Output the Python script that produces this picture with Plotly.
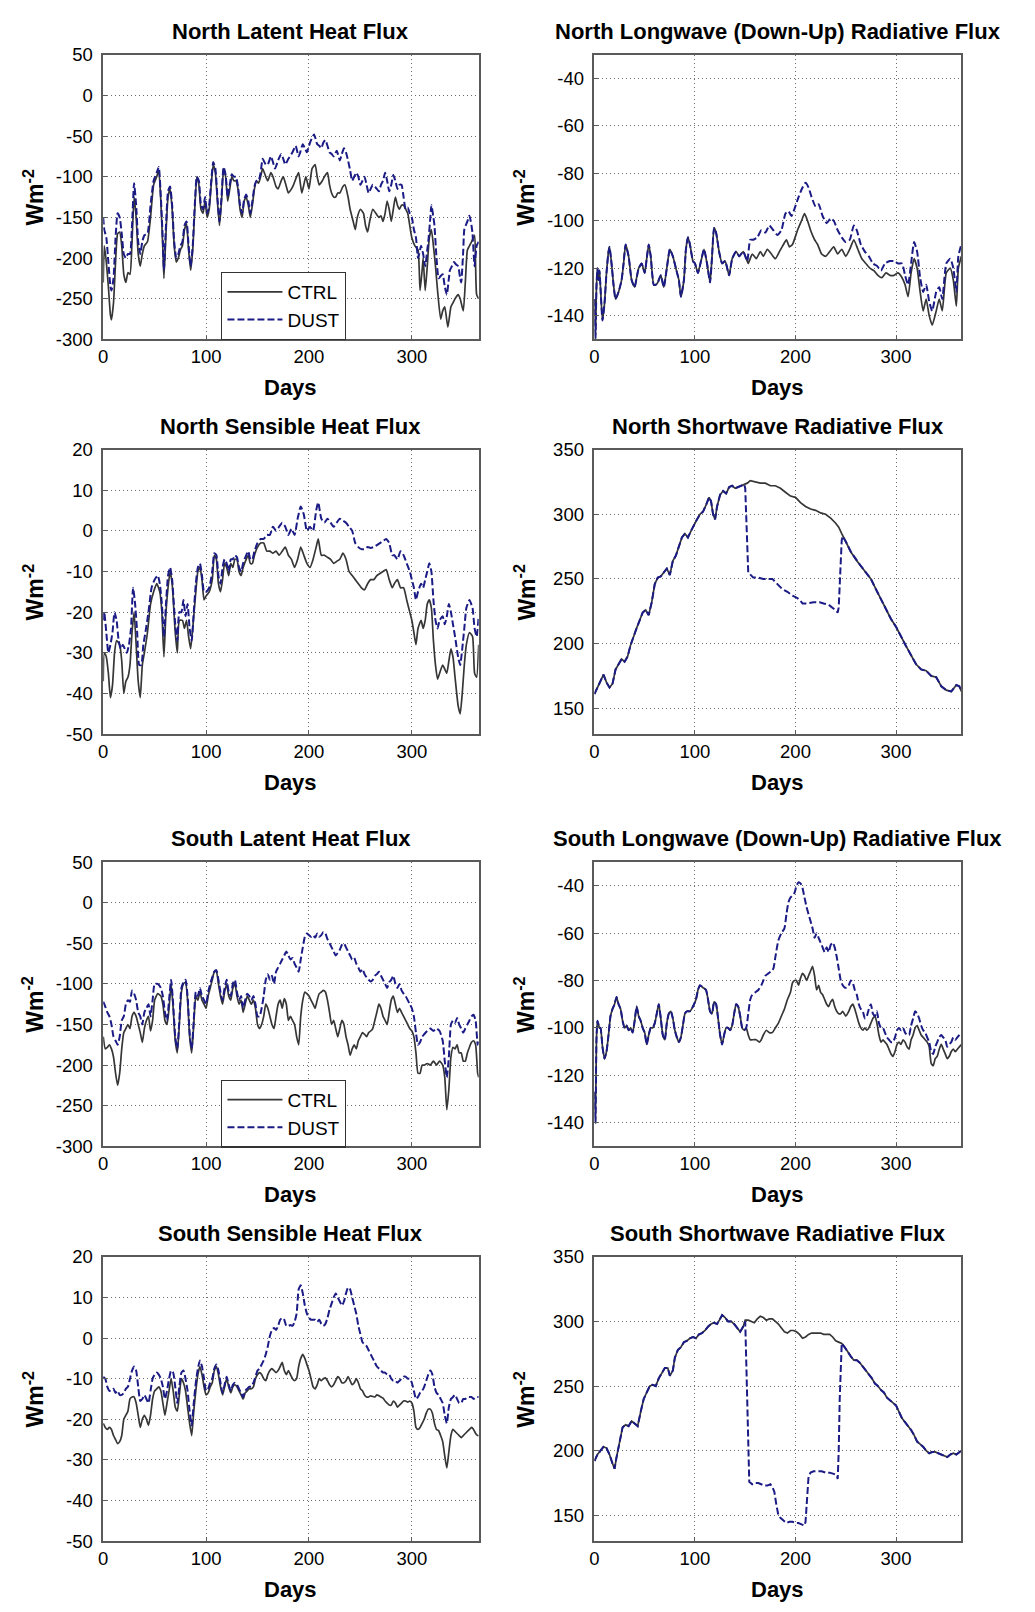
import plotly.graph_objects as go

# ---------------- data (day, W m-2) ----------------
DAY_TICKS = [0, 100, 200, 300]
LATENT_TICKS = [-300, -250, -200, -150, -100, -50, 0, 50]
LONGWAVE_TICKS = [-140, -120, -100, -80, -60, -40]
SENSIBLE_TICKS = [-50, -40, -30, -20, -10, 0, 10, 20]
SHORTWAVE_TICKS = [150, 200, 250, 300, 350]

NLH_CTRL = [(0,-230),(1,-185),(3,-205),(5,-235),(7,-270),(8,-276),(10,-255),(12,-205),(14,-170),(16,-168),(18,-185),(20,-220),(22,-230),(24,-218),(26,-220),(28,-180),(30,-125),(32,-150),(34,-195),(36,-210),(38,-195),(40,-185),(43,-180),(46,-150),(49,-110),(52,-100),(54,-92),(56,-130),(58,-190),(59,-225),(61,-170),(63,-125),(65,-115),(67,-140),(69,-185),(71,-205),(73,-200),(75,-190),(77,-185),(79,-165),(81,-158),(83,-190),(85,-215),(87,-190),(89,-140),(91,-100),(93,-110),(95,-140),(97,-145),(99,-130),(101,-150),(103,-140),(105,-110),(107,-85),(109,-95),(111,-130),(113,-160),(115,-130),(117,-90),(119,-100),(121,-130),(123,-115),(125,-100),(127,-105),(129,-105),(131,-115),(133,-140),(135,-150),(137,-130),(139,-125),(141,-135),(143,-150),(145,-135),(147,-115),(149,-105),(151,-108),(153,-100),(155,-90),(158,-100),(160,-105),(163,-95),(165,-100),(168,-112),(170,-115),(173,-105),(175,-100),(178,-112),(180,-120),(183,-115),(185,-110),(188,-100),(190,-95),(193,-120),(195,-110),(197,-100),(200,-115),(203,-90),(206,-85),(208,-100),(210,-110),(213,-105),(215,-100),(218,-95),(220,-110),(222,-120),(224,-125),(226,-125),(228,-120),(230,-120),(233,-112),(235,-110),(238,-125),(240,-140),(243,-155),(245,-165),(247,-150),(250,-140),(253,-145),(255,-160),(257,-168),(259,-155),(262,-140),(265,-145),(268,-150),(270,-148),(272,-155),(274,-145),(276,-130),(278,-140),(280,-155),(282,-140),(284,-125),(286,-135),(288,-140),(290,-135),(292,-135),(294,-140),(296,-145),(298,-160),(300,-175),(303,-185),(306,-190),(308,-240),(310,-215),(311,-200),(313,-240),(315,-210),(317,-175),(319,-165),(321,-185),(323,-210),(325,-240),(328,-275),(330,-265),(332,-260),(335,-285),(338,-260),(340,-255),(342,-250),(345,-245),(347,-250),(350,-265),(352,-230),(354,-190),(356,-185),(358,-180),(361,-172),(362,-210),(363,-245),(365,-250)]
NLH_DUST = [(0,-150),(1,-165),(3,-175),(5,-205),(7,-235),(8,-240),(10,-225),(12,-175),(14,-145),(16,-150),(18,-170),(20,-195),(22,-200),(24,-195),(26,-195),(28,-160),(30,-108),(32,-135),(34,-180),(36,-195),(38,-180),(40,-172),(43,-170),(46,-135),(49,-105),(52,-95),(54,-88),(56,-125),(58,-180),(59,-215),(61,-160),(63,-118),(65,-112),(67,-135),(69,-180),(71,-200),(73,-195),(75,-185),(77,-180),(79,-160),(81,-155),(83,-185),(85,-210),(87,-185),(89,-135),(91,-100),(93,-105),(95,-135),(97,-140),(99,-125),(101,-145),(103,-135),(105,-105),(107,-82),(109,-90),(111,-125),(113,-155),(115,-125),(117,-88),(119,-98),(121,-125),(123,-110),(125,-97),(127,-100),(129,-100),(131,-112),(133,-135),(135,-145),(137,-128),(139,-122),(141,-130),(143,-145),(145,-130),(147,-112),(149,-105),(151,-105),(153,-95),(155,-78),(158,-85),(160,-85),(163,-75),(165,-82),(167,-90),(170,-80),(173,-72),(175,-78),(177,-85),(180,-78),(184,-70),(187,-62),(190,-75),(192,-68),(194,-60),(196,-65),(198,-70),(200,-62),(202,-55),(205,-48),(208,-60),(210,-62),(212,-65),(214,-58),(216,-55),(218,-62),(220,-70),(222,-72),(224,-75),(227,-68),(230,-80),(232,-72),(234,-65),(236,-70),(238,-80),(240,-92),(242,-105),(244,-100),(246,-95),(248,-100),(250,-110),(252,-105),(254,-100),(256,-110),(258,-120),(260,-115),(262,-110),(264,-112),(266,-115),(268,-118),(270,-110),(272,-105),(274,-95),(276,-105),(278,-118),(280,-110),(282,-98),(284,-105),(286,-115),(288,-110),(290,-110),(292,-125),(294,-140),(296,-138),(298,-145),(300,-150),(302,-165),(304,-175),(306,-200),(308,-190),(309,-185),(311,-195),(313,-210),(315,-190),(316,-180),(318,-150),(319,-135),(321,-150),(322,-160),(324,-200),(326,-225),(328,-222),(330,-220),(332,-235),(334,-245),(336,-225),(337,-215),(339,-210),(341,-205),(343,-208),(345,-210),(347,-225),(348,-230),(350,-190),(351,-165),(354,-155),(356,-148),(358,-160),(359,-170),(361,-210),(363,-185),(365,-180)]

NLW_COMMON = [(0,-133),(1,-150),(2,-128),(3,-120),(4,-125),(5,-121),(6,-128),(8,-142),(10,-135),(12,-122),(14,-113),(15,-111),(17,-118),(19,-127),(21,-133),(24,-130),(27,-125),(29,-118),(31,-110),(34,-115),(37,-125),(40,-128),(42,-124),(44,-120),(47,-118),(50,-122),(52,-116),(54,-110),(56,-115),(59,-127),(61,-127),(63,-126),(66,-123),(69,-128),(72,-120),(75,-112),(78,-115),(81,-120),(84,-125),(86,-132),(89,-125),(91,-112),(93,-107),(95,-110),(98,-117),(100,-118),(103,-122),(106,-117),(109,-112),(112,-118),(115,-126),(117,-115),(119,-103),(121,-105),(124,-113),(127,-118),(130,-117),(134,-123),(137,-116),(141,-113),(144,-115),(148,-113),(152,-117)]
NLW_CTRL_LATE = [(153,-118),(157,-114),(161,-116),(165,-113),(168,-115),(172,-112),(176,-114),(180,-116),(184,-113),(188,-110),(191,-108),(194,-111),(197,-110),(202,-104),(206,-100),(209,-97),(212,-100),(215,-104),(219,-108),(222,-110),(226,-114),(230,-115),(234,-113),(238,-111),(242,-114),(246,-112),(250,-115),(254,-112),(258,-108),(262,-112),(266,-116),(270,-118),(274,-120),(278,-121),(282,-123),(286,-124),(290,-122),(294,-123),(298,-123),(302,-122),(306,-124),(309,-127),(312,-132),(315,-122),(318,-116),(321,-120),(324,-130),(327,-138),(330,-133),(333,-140),(336,-144),(340,-138),(343,-133),(346,-138),(350,-122),(354,-120),(357,-125),(360,-136),(362,-120),(365,-115)]
NLW_DUST_LATE = [(155,-108),(158,-108),(162,-107),(166,-104),(170,-105),(174,-102),(178,-104),(182,-106),(186,-104),(190,-97),(193,-96),(196,-98),(199,-95),(203,-90),(207,-86),(210,-84),(213,-86),(216,-90),(220,-94),(223,-93),(227,-98),(231,-101),(235,-99),(238,-100),(242,-104),(246,-107),(250,-109),(254,-108),(258,-102),(261,-104),(265,-110),(269,-113),(273,-115),(277,-118),(281,-119),(285,-121),(289,-118),(294,-117),(298,-117),(302,-118),(306,-118),(309,-123),(312,-127),(315,-118),(318,-109),(321,-113),(324,-124),(327,-130),(330,-127),(333,-134),(336,-138),(340,-130),(343,-128),(346,-133),(350,-118),(354,-116),(357,-120),(360,-130),(362,-115),(365,-110)]

NSH_CTRL = [(0,-37),(1,-30),(3,-31),(5,-35),(7,-41),(9,-38),(11,-30),(13,-27),(16,-28),(18,-32),(20,-40),(22,-37),(24,-36),(26,-33),(28,-25),(30,-20),(32,-28),(34,-37),(36,-41),(38,-33),(40,-30),(43,-25),(46,-18),(49,-15),(52,-13),(55,-15),(57,-20),(59,-31),(61,-20),(63,-14),(65,-10),(67,-13),(70,-25),(72,-30),(74,-22),(77,-22),(79,-24),(81,-22),(83,-26),(85,-29),(87,-24),(90,-15),(92,-10),(94,-9),(96,-12),(98,-17),(100,-16),(103,-15),(106,-12),(108,-6),(110,-7),(112,-13),(114,-15),(116,-12),(118,-8),(120,-9),(122,-11),(124,-8),(126,-9),(128,-7),(130,-7),(132,-10),(134,-11),(136,-9),(139,-7),(141,-6),(143,-8),(145,-8),(147,-6),(150,-4),(153,-3),(156,-3),(159,-5),(162,-5),(165,-5.5),(168,-5),(171,-6),(174,-5),(177,-4),(180,-6),(183,-7),(186,-9),(189,-7),(192,-4),(195,-6),(198,-8),(201,-9),(204,-7),(207,-4),(209,-2),(212,-6),(215,-6),(218,-6.5),(221,-7),(224,-8),(227,-7.5),(230,-7),(233,-5.5),(236,-7),(239,-10),(242,-11),(245,-12),(248,-13),(251,-14),(254,-14.5),(257,-13),(260,-12),(263,-12),(266,-11),(269,-10.5),(272,-10),(275,-9.5),(278,-12),(281,-14),(283,-13),(286,-12),(289,-14),(292,-14),(295,-17),(298,-20),(300,-22),(302,-25),(304,-28),(306,-24),(309,-22),(311,-24),(313,-22),(315,-18),(317,-17),(319,-19),(321,-27),(323,-33),(325,-36.5),(327,-35),(330,-33),(332,-34),(334,-35),(336,-32),(338,-29),(340,-31),(342,-36),(345,-43),(347,-45),(349,-40),(351,-33),(353,-28),(356,-25),(359,-26),(361,-35),(363,-36),(365,-28)]
NSH_DUST = [(0,-22),(1,-20),(3,-25),(5,-30),(7,-28),(9,-25),(11,-20),(13,-22),(15,-27),(17,-29),(19,-28),(21,-29),(23,-30),(25,-28),(27,-24),(29,-14),(31,-18),(33,-25),(35,-33),(37,-33),(39,-28),(41,-25),(44,-20),(47,-14),(50,-12),(53,-11),(55,-13),(57,-18),(59,-26),(61,-18),(63,-11),(65,-9),(67,-12),(70,-23),(72,-27),(74,-20),(76,-20),(78,-17),(80,-21),(82,-18),(84,-24),(86,-27),(88,-20),(90,-13),(92,-9),(94,-8),(96,-11),(98,-15),(100,-15),(103,-14),(106,-10),(108,-5.5),(110,-6),(112,-11),(114,-13),(116,-9),(118,-7),(120,-8),(122,-10),(124,-7),(126,-7),(128,-6),(130,-6.5),(132,-9),(134,-10),(136,-8),(139,-6),(141,-5),(143,-7),(145,-7),(147,-5),(150,-3),(153,-2),(156,-2),(159,-1),(162,-1),(165,1),(168,0),(171,1),(174,2),(177,1),(180,-1),(183,0.5),(186,-1),(189,3),(192,6),(195,4),(198,0),(201,1),(204,0),(207,5),(209,7),(212,3),(215,2),(218,3),(221,2),(224,1),(227,2),(230,3),(233,2.5),(236,2),(239,1),(242,0),(245,-3),(248,-4),(251,-4.5),(254,-4.5),(257,-4),(260,-4.2),(263,-4),(266,-3.5),(269,-3),(272,-2.5),(275,-2),(278,-3),(281,-6),(283,-6),(286,-7),(289,-5),(292,-6),(295,-8),(298,-10),(300,-12),(302,-14),(304,-17),(306,-15),(309,-13),(311,-14),(313,-12),(315,-10),(317,-8),(319,-10),(321,-17),(323,-22),(325,-24),(327,-22),(330,-21),(332,-23),(334,-21),(336,-18),(338,-20),(340,-23),(342,-26),(345,-31),(347,-33),(349,-29),(351,-24),(353,-19),(356,-17),(359,-19),(361,-24),(363,-26),(365,-21)]

NSW_COMMON = [(0,161),(3,166),(6,172),(9,176),(12,170),(15,166),(18,169),(21,180),(24,184),(27,188),(30,186),(33,190),(36,199),(39,206),(42,212),(45,218),(48,224),(51,226),(54,222),(57,232),(60,246),(63,251),(66,252),(69,255),(72,258),(75,253),(78,264),(81,268),(84,275),(87,282),(90,285),(93,282),(96,287),(99,292),(102,296),(105,300),(108,302),(111,307),(114,313),(116,310),(118,300),(120,296),(122,306),(125,315),(128,318),(131,316),(134,321),(137,322),(140,320),(143,321),(146,322),(149,323)]
NSW_CTRL_LATE = [(152,324),(155,326),(160,325),(165,324),(170,324),(175,322),(180,322),(185,320),(190,317),(195,314),(200,313),(205,309),(210,306),(215,304),(220,303),(225,301),(230,300),(235,297),(240,293),(243,290),(246,285),(250,279),(255,271),(260,265),(265,260),(270,255),(275,250),(280,242),(285,234),(290,227),(295,219),(300,213),(305,205),(310,198),(315,191),(320,184),(325,180),(330,179),(335,175),(340,174),(345,167),(350,164),(355,163),(360,168),(363,167),(365,163)]
NSW_DUST_MID = [(150,320),(152,280),(153,255),(158,251),(163,251),(168,250),(173,250),(177,250),(182,246),(187,242),(192,240),(197,237),(200,236),(204,234),(207,231),(212,231),(218,232),(224,232),(228,231),(233,230),(238,227),(242,224),(243,228),(244,250),(246,280),(247,283)]

SLH_CTRL = [(0,-165),(2,-180),(4,-178),(6,-175),(8,-180),(10,-190),(12,-210),(14,-225),(16,-210),(18,-180),(20,-160),(22,-155),(24,-150),(26,-155),(28,-140),(30,-135),(32,-140),(34,-150),(36,-160),(38,-172),(40,-155),(42,-145),(44,-140),(46,-158),(48,-145),(50,-120),(53,-112),(56,-115),(58,-125),(60,-145),(62,-150),(64,-130),(66,-100),(68,-130),(70,-170),(72,-185),(74,-150),(76,-110),(78,-100),(80,-98),(82,-120),(84,-165),(86,-185),(88,-150),(90,-115),(92,-120),(94,-110),(96,-120),(98,-125),(100,-130),(102,-115),(104,-105),(106,-95),(108,-85),(110,-85),(112,-100),(114,-115),(116,-125),(118,-110),(120,-100),(122,-115),(124,-120),(126,-105),(128,-100),(130,-115),(132,-125),(134,-120),(136,-135),(138,-125),(140,-115),(142,-120),(144,-125),(146,-120),(148,-130),(150,-150),(152,-155),(154,-150),(156,-140),(158,-125),(160,-130),(162,-140),(164,-150),(166,-155),(168,-140),(170,-125),(172,-120),(174,-130),(176,-118),(178,-125),(180,-145),(182,-140),(184,-145),(186,-150),(188,-165),(190,-175),(192,-140),(194,-120),(196,-110),(198,-112),(200,-115),(202,-120),(204,-125),(206,-130),(208,-120),(210,-112),(212,-110),(214,-108),(216,-110),(218,-120),(220,-135),(222,-150),(224,-145),(226,-155),(228,-165),(230,-155),(232,-145),(234,-150),(236,-165),(238,-175),(240,-188),(242,-180),(244,-175),(246,-180),(248,-170),(250,-165),(252,-160),(254,-162),(256,-165),(258,-160),(260,-158),(262,-155),(264,-145),(266,-135),(268,-125),(270,-130),(272,-140),(274,-145),(276,-150),(278,-135),(280,-120),(282,-115),(284,-125),(286,-135),(288,-130),(290,-135),(292,-140),(294,-145),(296,-150),(298,-155),(300,-158),(302,-165),(304,-185),(306,-210),(308,-210),(310,-200),(312,-200),(315,-198),(318,-200),(321,-195),(324,-200),(327,-195),(330,-200),(332,-215),(334,-255),(336,-230),(338,-190),(340,-178),(342,-180),(344,-175),(346,-185),(348,-185),(350,-195),(352,-195),(354,-185),(356,-178),(358,-172),(360,-170),(362,-175),(364,-210),(365,-215)]
SLH_DUST = [(0,-122),(2,-128),(4,-135),(6,-140),(8,-150),(10,-165),(12,-170),(14,-175),(16,-165),(18,-145),(20,-140),(22,-125),(24,-120),(26,-122),(28,-108),(30,-112),(32,-120),(34,-135),(36,-140),(38,-150),(40,-135),(42,-130),(44,-125),(46,-140),(48,-120),(50,-100),(53,-100),(56,-105),(58,-115),(60,-135),(62,-145),(64,-120),(66,-95),(68,-125),(70,-165),(72,-180),(74,-145),(76,-105),(78,-98),(80,-95),(82,-115),(84,-160),(86,-180),(88,-145),(90,-110),(92,-115),(94,-105),(96,-115),(98,-120),(100,-125),(102,-110),(104,-100),(106,-92),(108,-85),(110,-83),(112,-95),(114,-110),(116,-120),(118,-105),(120,-95),(122,-110),(124,-115),(126,-100),(128,-95),(130,-110),(132,-120),(134,-115),(136,-130),(138,-120),(140,-112),(142,-115),(144,-120),(146,-115),(148,-125),(150,-140),(152,-140),(154,-130),(156,-115),(158,-95),(160,-88),(162,-95),(164,-90),(166,-100),(168,-85),(170,-80),(172,-75),(174,-70),(176,-65),(178,-60),(180,-65),(182,-70),(184,-68),(186,-75),(188,-80),(190,-85),(192,-70),(194,-55),(196,-42),(198,-38),(200,-40),(202,-42),(204,-40),(206,-43),(208,-38),(210,-42),(212,-40),(214,-36),(216,-38),(218,-45),(220,-50),(222,-55),(224,-60),(226,-65),(228,-62),(230,-58),(232,-52),(234,-50),(236,-55),(238,-60),(240,-65),(242,-70),(244,-68),(246,-75),(248,-80),(250,-85),(252,-82),(254,-88),(256,-92),(258,-95),(260,-97),(262,-95),(264,-90),(266,-88),(268,-85),(270,-90),(272,-95),(274,-100),(276,-105),(278,-98),(280,-95),(282,-90),(284,-100),(286,-105),(288,-100),(290,-108),(292,-112),(294,-115),(296,-120),(298,-125),(300,-130),(302,-140),(304,-160),(306,-175),(308,-172),(310,-165),(312,-162),(315,-158),(318,-155),(321,-158),(324,-155),(327,-158),(330,-170),(332,-195),(334,-215),(336,-190),(338,-150),(340,-145),(342,-148),(344,-142),(346,-150),(348,-155),(350,-160),(352,-155),(354,-150),(356,-145),(358,-140),(360,-138),(362,-145),(364,-175),(365,-170)]

SLW_COMMON = [(0,-127),(1,-140),(2,-105),(3,-97),(5,-100),(6,-100),(8,-108),(10,-113),(12,-110),(14,-103),(16,-95),(18,-92),(20,-90),(22,-87),(24,-90),(26,-92),(28,-97),(30,-100),(32,-99),(34,-101),(36,-100),(38,-102),(40,-97),(42,-91),(44,-95),(46,-97),(48,-100),(50,-102),(52,-107),(54,-103),(56,-100),(58,-100),(60,-98),(62,-94),(64,-90),(66,-96),(68,-103),(70,-105),(72,-98),(74,-94),(76,-93),(78,-96),(80,-101),(82,-104),(84,-106),(86,-104),(88,-99),(90,-94),(92,-93),(95,-93),(98,-91),(101,-88),(103,-84),(105,-82),(108,-83),(111,-84),(113,-88),(115,-93),(117,-94),(119,-89),(121,-90),(123,-96),(125,-103),(127,-107),(129,-103),(131,-100),(133,-100),(135,-101),(137,-99),(139,-94),(141,-90),(143,-91),(145,-95),(147,-100),(149,-101),(151,-100)]
SLW_CTRL_LATE = [(153,-103),(155,-105),(158,-105),(161,-105),(164,-106),(166,-105),(168,-103),(171,-101),(174,-102),(177,-102),(180,-100),(183,-98),(186,-95),(189,-92),(192,-88),(195,-85),(197,-81),(199,-80),(201,-80),(203,-82),(205,-79),(207,-77),(209,-78),(211,-80),(213,-78),(215,-76),(217,-74),(219,-78),(221,-84),(223,-82),(225,-85),(227,-86),(229,-88),(231,-90),(233,-91),(235,-89),(237,-88),(239,-91),(241,-93),(243,-94),(245,-94),(247,-93),(250,-95),(253,-93),(255,-91),(257,-90),(259,-92),(261,-95),(263,-98),(265,-100),(267,-101),(269,-100),(271,-101),(273,-100),(275,-98),(277,-96),(279,-95),(281,-98),(283,-103),(285,-106),(287,-105),(289,-106),(291,-107),(293,-109),(295,-111),(297,-112),(299,-110),(301,-107),(303,-106),(305,-107),(307,-105),(309,-106),(311,-108),(313,-109),(315,-105),(317,-103),(319,-100),(321,-99),(323,-101),(325,-103),(327,-104),(329,-105),(331,-106),(333,-108),(335,-115),(337,-116),(339,-113),(341,-112),(343,-109),(345,-107),(347,-109),(349,-111),(351,-113),(353,-112),(355,-110),(357,-109),(359,-110),(361,-109),(363,-108),(365,-107)]
SLW_DUST_LATE = [(153,-94),(155,-88),(157,-86),(160,-85),(163,-84),(166,-82),(168,-80),(170,-78),(173,-77),(176,-76),(178,-75),(180,-70),(183,-63),(186,-60),(189,-58),(191,-52),(193,-47),(195,-45),(197,-44),(199,-43),(201,-40),(203,-38.5),(205,-39),(207,-41),(209,-45),(211,-49),(213,-52),(215,-55),(217,-58),(219,-62),(221,-60),(223,-62),(225,-64),(227,-66),(229,-68),(231,-66),(233,-68),(235,-65),(237,-64),(239,-66),(241,-70),(243,-75),(245,-80),(247,-82),(249,-83),(251,-83),(253,-82),(255,-80),(257,-81),(259,-84),(261,-86),(263,-90),(265,-92),(267,-93),(269,-96),(271,-95),(273,-92),(275,-90),(277,-94),(279,-95),(281,-93),(283,-98),(285,-100),(287,-100),(289,-102),(291,-104),(293,-105),(295,-106),(297,-106),(299,-104),(301,-101),(303,-100),(305,-101),(307,-100),(309,-102),(311,-103),(313,-103),(315,-99),(317,-96),(319,-93),(321,-94),(323,-96),(325,-99),(327,-101),(329,-102),(331,-104),(333,-106),(335,-110),(337,-111),(339,-108),(341,-106),(343,-104),(345,-103),(347,-104),(349,-105),(351,-108),(353,-107),(355,-106),(357,-104),(359,-105),(361,-104),(363,-103),(365,-102)]

SSH_CTRL = [(0,-21),(2,-22),(4,-22.5),(6,-22),(8,-22.5),(10,-24),(12,-25),(14,-26),(16,-25.5),(18,-24),(20,-20),(22,-19),(24,-18),(26,-15),(28,-14.5),(30,-14.5),(32,-16),(34,-19),(36,-22),(38,-20),(40,-19),(42,-20),(44,-21.5),(46,-19),(48,-15),(50,-13),(52,-12.5),(54,-12),(56,-13),(58,-16),(60,-19),(62,-16),(64,-13),(66,-10),(68,-13),(70,-17),(72,-18),(74,-14),(76,-10),(78,-11),(80,-13),(82,-17),(84,-21),(86,-24),(88,-18),(90,-13),(92,-9),(94,-7),(96,-9),(98,-12),(100,-14),(102,-13.5),(104,-12),(106,-11),(108,-8),(110,-7),(112,-9),(114,-12),(116,-14),(118,-12),(120,-10),(122,-12),(124,-13.5),(126,-12),(128,-11.5),(130,-12),(132,-13),(134,-14),(136,-15),(138,-13.5),(140,-13),(142,-12.5),(144,-12.5),(146,-12),(148,-10),(150,-9),(152,-8.5),(154,-9),(156,-10),(158,-10.5),(160,-9),(162,-8),(164,-7.5),(166,-8),(168,-8.5),(170,-8),(172,-7),(174,-6),(176,-8),(178,-9),(180,-8),(182,-9),(184,-10),(186,-10.5),(188,-10),(190,-7),(192,-5),(194,-4),(196,-5),(198,-6.5),(200,-8),(202,-10),(204,-12),(206,-12.5),(208,-11.5),(210,-10),(212,-10.5),(214,-10),(216,-9.8),(218,-10.5),(220,-11.5),(222,-12),(224,-11.5),(226,-10.5),(228,-9.5),(230,-10),(232,-11),(234,-11),(236,-10.5),(238,-9.5),(240,-10.5),(242,-11.5),(244,-11),(246,-10),(248,-11),(250,-12.5),(252,-13),(254,-14),(256,-14.5),(258,-14.5),(260,-14.2),(262,-14.4),(264,-14.5),(266,-14),(268,-14.2),(270,-14.5),(272,-14.8),(274,-15.5),(276,-16),(278,-16.5),(280,-16.5),(282,-15.5),(284,-16),(286,-17),(288,-16.5),(290,-16),(292,-15.5),(294,-15.5),(296,-15.8),(298,-15.5),(300,-16),(302,-18),(304,-22),(306,-22.5),(308,-22),(310,-21),(312,-20),(314,-18.5),(316,-17.5),(318,-17.5),(320,-18.5),(322,-21),(324,-22.5),(326,-22.8),(328,-24),(330,-25.5),(332,-29),(334,-32),(336,-28),(338,-24),(340,-22.5),(342,-23),(344,-23.5),(346,-24),(348,-24.5),(350,-24),(352,-23.5),(354,-23),(356,-22.5),(358,-22),(360,-22.5),(362,-23.5),(364,-24),(365,-24)]
SSH_DUST = [(0,-9.5),(2,-10),(4,-12),(6,-13),(8,-13),(10,-12.5),(12,-13.5),(14,-13),(16,-14),(18,-14),(20,-13.5),(22,-12.5),(24,-12),(26,-10),(28,-8),(30,-7),(32,-8),(34,-12),(36,-15.5),(38,-15),(40,-14),(42,-15),(44,-16),(46,-13),(48,-10),(50,-9),(52,-8.5),(54,-9),(56,-10),(58,-12),(60,-15),(62,-13),(64,-10),(66,-8),(68,-8.5),(70,-12),(72,-16),(74,-12),(76,-8.5),(78,-8),(80,-10),(82,-13),(84,-18),(86,-21.5),(88,-16),(90,-11),(92,-7.5),(94,-5.5),(96,-7),(98,-10),(100,-13),(102,-12.5),(104,-11),(106,-10),(108,-7.5),(110,-6.5),(112,-8),(114,-11),(116,-13.5),(118,-11.5),(120,-9.5),(122,-11.5),(124,-13),(126,-11.5),(128,-11),(130,-11.5),(132,-12.5),(134,-13.5),(136,-14.5),(138,-13),(140,-12.5),(142,-12),(144,-12),(146,-11),(148,-9.5),(150,-8),(152,-7.5),(154,-6.5),(156,-5.5),(158,-4),(160,-2),(162,0.5),(164,2),(166,2.5),(168,2),(170,3),(172,4.5),(174,5),(176,4.5),(178,3),(180,3),(182,3.2),(184,3),(186,4),(188,6),(190,12),(192,13),(194,11),(196,8),(198,6),(200,5),(202,4.5),(204,4.5),(206,4.5),(208,4),(210,4.5),(212,3.5),(214,3),(216,3.5),(218,5),(220,7),(222,8.5),(224,10),(226,11),(228,10),(230,9),(232,8),(234,9),(236,11),(238,12.5),(240,12),(242,10),(244,8),(246,6),(248,3),(250,1),(252,-1),(254,-1.5),(256,-2),(258,-3),(260,-4),(262,-5),(264,-6),(266,-7),(268,-7.5),(270,-8),(272,-8.5),(274,-8.5),(276,-9),(278,-9),(280,-10),(282,-10.5),(284,-10.5),(286,-11),(288,-10.5),(290,-10),(292,-9.5),(294,-9.5),(296,-10),(298,-10),(300,-11),(302,-13),(304,-15),(306,-14.5),(308,-13.5),(310,-13),(312,-12),(314,-10.5),(316,-9),(318,-8),(320,-9),(322,-12),(324,-13.5),(326,-14),(328,-15),(330,-16),(332,-19),(334,-21),(336,-17),(338,-15),(340,-14.5),(342,-14),(344,-15),(346,-16),(348,-16),(350,-15),(352,-15),(354,-14.5),(356,-14.5),(358,-14.5),(360,-15),(362,-14.5),(364,-14.5),(365,-14.5)]

SSW_COMMON = [(0,192),(3,197),(6,200),(9,203),(12,202),(15,197),(18,190),(20,186),(22,195),(25,207),(28,218),(31,220),(34,219),(37,223),(40,221),(43,219),(46,230),(49,240),(52,245),(55,250),(58,251),(61,250),(64,256),(67,260),(70,264),(73,264),(75,258),(78,262),(80,272),(83,278),(86,280),(89,284),(92,285),(95,287),(98,288),(101,287),(104,290),(107,291),(110,293),(113,296),(116,298),(119,299),(122,298),(125,302),(127,305),(130,303),(133,300),(136,300),(139,298),(142,295),(145,292),(148,296)]
SSW_CTRL_LATE = [(150,301),(153,301),(156,300),(159,299),(162,302),(165,304),(168,303),(171,301),(174,302),(177,302),(180,300),(183,298),(186,295),(189,292),(192,291),(195,293),(198,293),(201,292),(204,290),(207,287),(210,288),(213,290),(216,291),(219,291),(222,291),(225,291),(228,290),(231,290),(234,290),(237,288),(240,285),(243,284),(246,283),(249,280),(252,276),(255,273),(258,270),(261,270),(264,268),(267,265),(270,262),(273,259),(276,256),(279,252),(282,250),(285,247),(288,245),(291,241),(294,239),(297,237),(300,235),(303,230),(306,225),(309,222),(312,219),(315,216),(318,212),(321,207),(324,205),(327,203),(330,200),(333,198),(336,199),(339,199),(342,198),(345,197),(348,196),(351,195),(354,197),(357,198),(360,197),(363,199),(365,200)]
SSW_DUST_MID = [(150,300),(151,270),(152,240),(153,200),(154,176),(157,174),(160,175),(163,175),(166,174),(169,173),(172,173),(175,174),(177,172),(179,168),(181,158),(183,150),(185,148),(188,146),(191,144),(194,145),(197,145),(200,144),(203,144),(206,143),(209,142),(210,145),(211,155),(212,170),(213,180),(215,183),(218,184),(222,184),(226,184),(230,183),(234,183),(238,182),(241,181),(242,178),(243,200),(244,240),(245,270)]

# ---------------- assemble series ----------------
series = {
    "nlh": (NLH_CTRL, NLH_DUST),
    "nlw": (NLW_COMMON + NLW_CTRL_LATE, NLW_COMMON + NLW_DUST_LATE),
    "nsh": (NSH_CTRL, NSH_DUST),
    "nsw": (NSW_COMMON + NSW_CTRL_LATE,
            NSW_COMMON + NSW_DUST_MID + [p for p in NSW_CTRL_LATE if p[0] >= 250]),
    "slh": (SLH_CTRL, SLH_DUST),
    "slw": (SLW_COMMON + SLW_CTRL_LATE, SLW_COMMON + SLW_DUST_LATE),
    "ssh": (SSH_CTRL, SSH_DUST),
    "ssw": (SSW_COMMON + SSW_CTRL_LATE,
            SSW_COMMON + SSW_DUST_MID + [p for p in SSW_CTRL_LATE if p[0] >= 246]),
}

panels = [
    # key, row, col, title, yrange, yticks, legend, smooth
    ("nlh", 0, 0, "North Latent Heat Flux", [-300, 50], LATENT_TICKS, "legend", True),
    ("nlw", 0, 1, "North Longwave (Down-Up) Radiative Flux", [-150, -30], LONGWAVE_TICKS, None, True),
    ("nsh", 1, 0, "North Sensible Heat Flux", [-50, 20], SENSIBLE_TICKS, None, True),
    ("nsw", 1, 1, "North Shortwave Radiative Flux", [130, 350], SHORTWAVE_TICKS, None, False),
    ("slh", 2, 0, "South Latent Heat Flux", [-300, 50], LATENT_TICKS, "legend2", True),
    ("slw", 2, 1, "South Longwave (Down-Up) Radiative Flux", [-150, -30], LONGWAVE_TICKS, None, True),
    ("ssh", 3, 0, "South Sensible Heat Flux", [-50, 20], SENSIBLE_TICKS, None, True),
    ("ssw", 3, 1, "South Shortwave Radiative Flux", [130, 350], SHORTWAVE_TICKS, None, False),
]

W, H = 1035, 1612
COLS = [(98.7, 476.0), (592.3, 961.0)]
ROWS = [(44.3, 332.7), (444.3, 732.7), (862.3, 1150.3), (1262.3, 1550.3)]
FONT = "Liberation Sans, Arial, Helvetica, sans-serif"
CTRL_COLOR = "#363636"
DUST_COLOR = "#1b1b86"
FRAME = "#5a5a5a"

fig = go.Figure()
layout = dict(width=W, height=H, margin=dict(l=0, r=0, t=0, b=0),
              paper_bgcolor="white", plot_bgcolor="white",
              font=dict(family=FONT, size=18, color="black"),
              showlegend=True)
annotations = []

for i, (key, r, c, title, yr, yticks, leg, smooth) in enumerate(panels, start=1):
    ctrl, dust = series[key]
    x0, x1 = COLS[c]
    y0, y1 = ROWS[r]
    xd = [x0 / W, x1 / W]
    yd = [1 - y1 / H, 1 - y0 / H]
    xa = "x" if i == 1 else f"x{i}"
    ya = "y" if i == 1 else f"y{i}"
    common_axis = dict(showline=True, mirror=True, linecolor=FRAME, linewidth=1.5,
                       ticks="inside", ticklen=4, tickcolor=FRAME,
                       showgrid=True, gridcolor="#6e6e6e", griddash="1px,3px", gridwidth=1,
                       zeroline=False, tickfont=dict(family=FONT, size=18.5, color="black"))
    layout["xaxis" if i == 1 else f"xaxis{i}"] = dict(
        domain=xd, range=[0, 365], tickmode="array", tickvals=DAY_TICKS,
        ticktext=[str(v) for v in DAY_TICKS], anchor=ya, **common_axis)
    layout["yaxis" if i == 1 else f"yaxis{i}"] = dict(
        domain=yd, range=yr, tickmode="array", tickvals=yticks,
        ticktext=[str(v) for v in yticks], anchor=xa, ticklabelstandoff=5, **common_axis)

    show = leg is not None
    shape = dict(shape="spline", smoothing=0.5) if smooth else dict(shape="linear")
    fig.add_trace(go.Scatter(x=[p[0] for p in ctrl], y=[p[1] for p in ctrl], mode="lines",
                             name="CTRL", line=dict(color=CTRL_COLOR, width=1.7, **shape),
                             xaxis=xa, yaxis=ya, showlegend=show,
                             legend=leg if show else "legend"))
    fig.add_trace(go.Scatter(x=[p[0] for p in dust], y=[p[1] for p in dust], mode="lines",
                             name="DUST", line=dict(color=DUST_COLOR, width=2.0, dash="7px,3px", **shape),
                             xaxis=xa, yaxis=ya, showlegend=show,
                             legend=leg if show else "legend"))

    cx = (x0 + x1) / 2 / W
    annotations.append(dict(text=f"<b>{title}</b>", x=cx, y=1 - (y0 - 23.5) / H,
                            xref="paper", yref="paper", xanchor="center", yanchor="middle",
                            showarrow=False, font=dict(family=FONT, size=22, color="black")))
    annotations.append(dict(text="<b>Days</b>", x=cx, y=1 - (y1 + 49) / H,
                            xref="paper", yref="paper", xanchor="center", yanchor="middle",
                            showarrow=False, font=dict(family=FONT, size=22, color="black")))
    annotations.append(dict(text="<b>Wm<sup>-2</sup></b>", x=(x0 - 70) / W,
                            y=1 - (y0 + y1) / 2 / H, textangle=-90,
                            xref="paper", yref="paper", xanchor="center", yanchor="middle",
                            showarrow=False, font=dict(family=FONT, size=23, color="black")))

legend_style = dict(bgcolor="white", bordercolor="#333333", borderwidth=1.2,
                    font=dict(family=FONT, size=19, color="black"),
                    xanchor="left", yanchor="top", itemwidth=55, tracegroupgap=0)
layout["legend"] = dict(x=217.3 / W, y=1 - 264.3 / H, **legend_style)
layout["legend2"] = dict(x=217.3 / W, y=1 - 1082.7 / H, **legend_style)
layout["annotations"] = annotations

fig.update_layout(**layout)
fig.write_html("out.html")
